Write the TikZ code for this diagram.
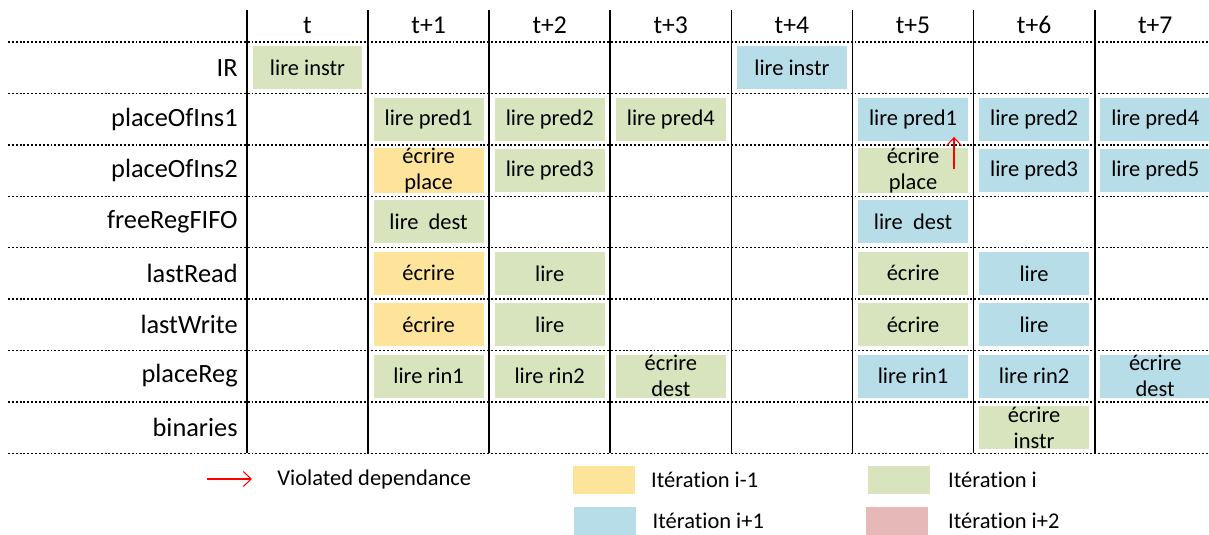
\documentclass[tikz,border=0pt]{standalone}
\usepackage{fontspec}
\setmainfont{Carlito}[Ligatures=NoCommon]
\usetikzlibrary{positioning,arrows.meta}

\definecolor{iterprev}{HTML}{FEE39B}
\definecolor{itercur}{HTML}{D7E4BD}
\definecolor{iternext}{HTML}{B7DDE8}
\definecolor{iterafter}{HTML}{E6B9B8}

\tikzset{
 cell/.style={minimum width=2.2cm, minimum height=0.86cm, inner sep=0pt, align=center, font=\fontsize{12.8}{14.8}\selectfont},
 prev box/.style={cell, fill=iterprev},
 cur box/.style={cell, fill=itercur},
 next box/.style={cell, fill=iternext},
 rowname/.style={anchor=east, inner sep=0pt, font=\fontsize{15}{17}\selectfont},
 colname/.style={inner sep=0pt, font=\fontsize{14.6}{16}\selectfont},
 swatch/.style={minimum width=1.24cm, minimum height=0.56cm, inner sep=0pt},
 legendtext/.style={anchor=west, inner sep=0pt, font=\fontsize{12.8}{14.8}\selectfont},
 col line/.style={line width=1pt},
 grid line/.style={line width=0.8pt, dash pattern=on 1.1pt off 1.1pt},
 violated/.style={-{Straight Barb[length=4.5pt,width=8.5pt]}, red, line width=0.6pt}
}

\begin{document}
\begin{tikzpicture}[x=0.02cm, y=-0.02cm]
 \useasboundingbox (0,0) rectangle (1209,534);

 %Grid
 \foreach \i in {0,...,7}
  \draw[col line] (247+121.1*\i, 10) -- (247+121.1*\i, 453);
 \foreach \j in {0,...,8}
  \draw[grid line] (8, 42+51.4*\j) -- (1209, 42+51.4*\j);

 %Names
 \foreach \c/\ctext in {0/t,1/t+1,2/t+2,3/t+3,4/t+4,5/t+5,6/t+6,7/t+7}
  \node[colname] (head-\c) at (307.5+121.1*\c, 25) {\ctext};

 \foreach \r/\rtext in {0/IR,1/placeOfIns1,2/placeOfIns2,3/freeRegFIFO,4/lastRead,5/lastWrite,6/placeReg,7/binaries}
  \node[rowname] (row-\r) at (238, 67.7+51.4*\r) {\rtext};

 %Cells
 \foreach \c/\r/\kind/\txt in {
   0/0/cur/lire instr, 4/0/next/lire instr,
   1/1/cur/lire pred1, 2/1/cur/lire pred2, 3/1/cur/lire pred4,
   5/1/next/lire pred1, 6/1/next/lire pred2, 7/1/next/lire pred4,
   1/2/prev/{écrire\\place}, 2/2/cur/lire pred3, 5/2/cur/{écrire\\place},
   6/2/next/lire pred3, 7/2/next/lire pred5,
   1/3/cur/lire\ \ dest, 5/3/next/lire\ \ dest,
   1/4/prev/écrire, 2/4/cur/lire, 5/4/cur/écrire, 6/4/next/lire,
   1/5/prev/écrire, 2/5/cur/lire, 5/5/cur/écrire, 6/5/next/lire,
   1/6/cur/lire rin1, 2/6/cur/lire rin2, 3/6/cur/{écrire\\dest},
   5/6/next/lire rin1, 6/6/next/lire rin2, 7/6/next/{écrire\\dest},
   6/7/cur/{écrire\\instr}}
  \node[\kind\space box] (box-\c-\r) at (307.5+121.1*\c, 67.7+51.4*\r) {\txt};

 %Violated dependance
 \coordinate (viol-start) at (954,169);
 \draw[violated, shorten >=-0.08cm] (viol-start) -- (viol-start |- box-5-1.south);

 %Legend
 \coordinate (leg-from) at (207,479);
 \coordinate (leg-to) at (252,479);
 \draw[violated] (leg-from) -- (leg-to);
 \node[legendtext] (leg-viol) at (277,479) {Violated dependance};

 \node[swatch, fill=iterprev] (sw-prev) at (603.5,480) {};
 \node[legendtext, right=0.32cm of sw-prev] (leg-prev) {Itération i-1};
 \node[swatch, fill=itercur] (sw-cur) at (898.5,480) {};
 \node[legendtext, right=0.36cm of sw-cur] (leg-cur) {Itération i};
 \node[swatch, fill=iternext] (sw-next) at (605,521) {};
 \node[legendtext, right=0.32cm of sw-next] (leg-next) {Itération i+1};
 \node[swatch, fill=iterafter] (sw-after) at (896.5,521) {};
 \node[legendtext, right=0.4cm of sw-after] (leg-after) {Itération i+2};
\end{tikzpicture}
\end{document}
